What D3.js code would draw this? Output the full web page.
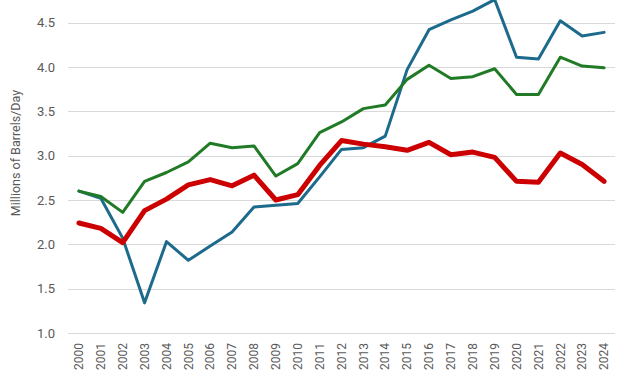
<!DOCTYPE html>
<html>
<head>
<meta charset="utf-8">
<script src="https://cdn.jsdelivr.net/npm/d3@7"></script>
<style>
  body { margin: 0; background: #fff; }
  text { font-family: Roboto, "Liberation Sans", sans-serif; fill: #595959; }
  .grid line { stroke: #d9d9d9; stroke-width: 1; }
  .line { fill: none; stroke-linejoin: round; stroke-linecap: round; }
</style>
</head>
<body>
<div id="chart"></div>
<script>
const years = ['2000','2001','2002','2003','2004','2005','2006','2007','2008','2009','2010','2011','2012',
               '2013','2014','2015','2016','2017','2018','2019','2020','2021','2022','2023','2024'];
const blueValues = [2.60, 2.52, 2.07, 1.34, 2.03, 1.82, 1.98, 2.14, 2.42, 2.44, 2.46, 2.76, 3.07,
                    3.09, 3.22, 3.97, 4.42, 4.53, 4.63, 4.76, 4.11, 4.09, 4.52, 4.35, 4.39];
const greenValues = [2.60, 2.54, 2.36, 2.71, 2.81, 2.93, 3.14, 3.09, 3.11, 2.77, 2.91, 3.26, 3.38,
                     3.53, 3.57, 3.86, 4.02, 3.87, 3.89, 3.98, 3.69, 3.69, 4.11, 4.01, 3.99];
const redValues = [2.24, 2.18, 2.02, 2.38, 2.51, 2.67, 2.73, 2.66, 2.78, 2.50, 2.56, 2.89, 3.17,
                   3.13, 3.10, 3.06, 3.15, 3.01, 3.04, 2.98, 2.71, 2.70, 3.03, 2.90, 2.71];
const yTicks = [1.0, 1.5, 2.0, 2.5, 3.0, 3.5, 4.0, 4.5];

const width = 627, height = 376;
const plot = { left: 68, right: 615, top: 0, bottom: 333 };

const xScale = d3.scaleBand().domain(years).range([plot.left, plot.right]);
const yScale = d3.scaleLinear().domain([1.0, 4.755]).range([plot.bottom, plot.top]);

const svg = d3.select('#chart').append('svg')
    .attr('width', width)
    .attr('height', height);

// gridlines
svg.append('g')
    .attr('class', 'grid')
    .selectAll('line')
    .data(yTicks)
    .enter()
    .append('line')
    .attr('x1', plot.left)
    .attr('x2', plot.right)
    .attr('y1', d => Math.round(yScale(d)) + 0.5)
    .attr('y2', d => Math.round(yScale(d)) + 0.5);

// y tick labels
svg.append('g')
    .selectAll('text')
    .data(yTicks)
    .enter()
    .append('text')
    .attr('x', 55)
    .attr('y', d => yScale(d))
    .attr('dy', '0.35em')
    .attr('text-anchor', 'end')
    .style('font-size', '13px')
    .text(d => d.toFixed(1));

// x tick labels (rotated)
svg.append('g')
    .selectAll('text')
    .data(years)
    .enter()
    .append('text')
    .attr('transform', d => 'translate(' + (xScale(d) + xScale.bandwidth() / 2) + ',343) rotate(-90)')
    .attr('dy', '0.35em')
    .attr('text-anchor', 'end')
    .style('font-size', '12px')
    .text(d => d);

// y axis title
svg.append('text')
    .attr('transform', 'translate(16,153) rotate(-90)')
    .attr('dy', '0.35em')
    .attr('text-anchor', 'middle')
    .style('font-size', '12.5px')
    .text('Millions of Barrels/Day');

const line = d3.line()
    .x((d, i) => xScale(years[i]) + xScale.bandwidth() / 2)
    .y(d => yScale(d));

const series = [
    { values: blueValues, color: '#1c6a8c', w: 3 },
    { values: greenValues, color: '#217a25', w: 3 },
    { values: redValues, color: '#cc0000', w: 5 }
];

series.forEach(s => {
    svg.append('path')
        .datum(s.values)
        .attr('class', 'line')
        .attr('stroke', s.color)
        .attr('stroke-width', s.w)
        .attr('d', line);
});
</script>
</body>
</html>
